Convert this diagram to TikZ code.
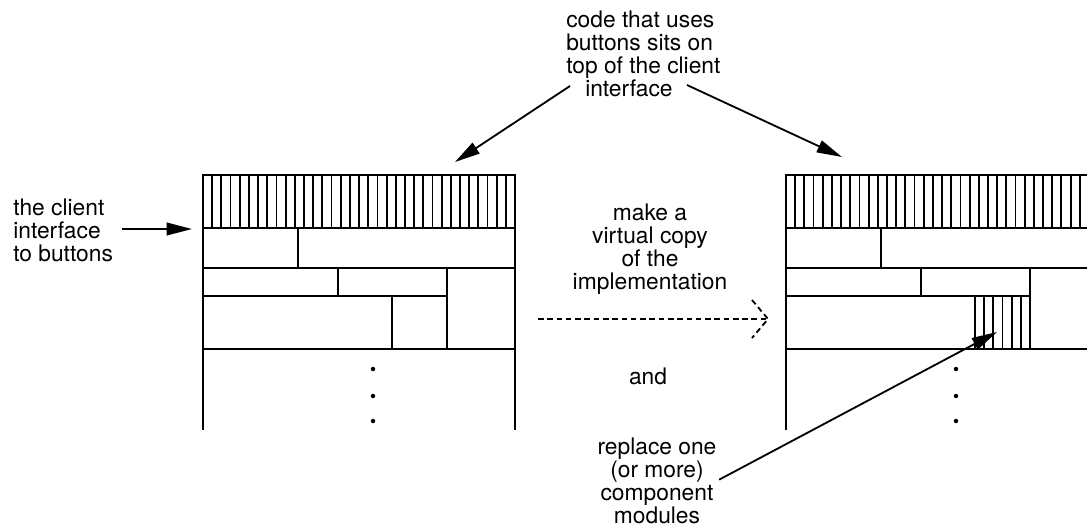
\documentclass[tikz,border=0pt]{standalone}
\usepackage{fontspec}
\setmainfont{TeX Gyre Heros}
\usetikzlibrary{arrows.meta}

\begin{document}
\begin{tikzpicture}[x=0.025cm, y=-0.025cm,
	stackline/.style={line width=1.4pt},
	hatchline/.style={line width=1.3pt},
	lbl/.style={font=\fontsize{16.2}{16.4}\selectfont, inner sep=0pt},
	pointer/.style={line width=1.3pt, -{Triangle[length=18pt,width=9pt]}},
	copyline/.style={line width=1.3pt, dash pattern=on 4pt off 2.6pt}]
	\useasboundingbox (0,0) rectangle (1087,527);
	\clip (0,0) rectangle (1087,527);
	
	% Las dos pilas de modulos
	\foreach \dx in {0,583} {
		\begin{scope}[shift={(\dx,0)}]
			\draw[stackline] (203,430) -- (203,175) -- (515,175) -- (515,430);
			\draw[stackline] (203,228) -- (515,228);
			\draw[stackline] (203,268) -- (515,268);
			\draw[stackline] (203,296) -- (447,296);
			\draw[stackline] (203,349) -- (515,349);
			\draw[stackline] (298,228) -- (298,268);
			\draw[stackline] (338,268) -- (338,296);
			\draw[stackline] (447,268) -- (447,349);
			\draw[stackline] (392,296) -- (392,349);
			% Rayado de la interfaz
			\foreach \k in {1,...,33} {
				\draw[hatchline] ({203+\k*9.18},175) -- ({203+\k*9.18},228);
			}
			\foreach \y in {369,396,421} {
				\fill (373,\y) circle (1.6pt);
			}
		\end{scope}
	}
	
	% Modulo reemplazado
	\foreach \k in {1,...,5} {
		\draw[hatchline] ({975+\k*9.17},296) -- ({975+\k*9.17},349);
	}
	
	% Textos
	\node[lbl, align=left, anchor=west] (client) at (13,230) {the client\\interface\\to buttons};
	\node[lbl, align=left, anchor=west] (code) at (566,54) {code that uses\\buttons sits on\\top of the client\\\hspace*{13.5pt}interface};
	\node[lbl, align=center] (copy) at (650,249) {make a\\virtual copy\\of the\\implementation};
	\node[lbl] (and) at (648,376) {and};
	\node[lbl, align=center] (replace) at (657,481) {replace one\\(or more)\\component\\modules};
	
	\coordinate (clientTip) at (192,229);
	\coordinate (codeL) at (570,86);
	\coordinate (codeR) at (687,85);
	\coordinate (topL) at (455,162);
	\coordinate (topR) at (842,157);
	\coordinate (copyFrom) at (538,319);
	\coordinate (copyTo) at (768,319);
	\coordinate (cellTip) at (997,332);
	
	% Flechas
	\draw[pointer, shorten <=6pt] (client.east |- clientTip) -- (clientTip);
	\draw[pointer] (codeL) -- (topL);
	\draw[pointer] (codeR) -- (topR);
	\draw[pointer, shorten <=2pt] (replace.east) -- (cellTip);
	\draw[copyline] (copyFrom) -- (copyTo);
	\draw[copyline] ([shift={(-16,-19)}]copyTo) -- (copyTo) -- ([shift={(-16,19)}]copyTo);
\end{tikzpicture}
\end{document}
